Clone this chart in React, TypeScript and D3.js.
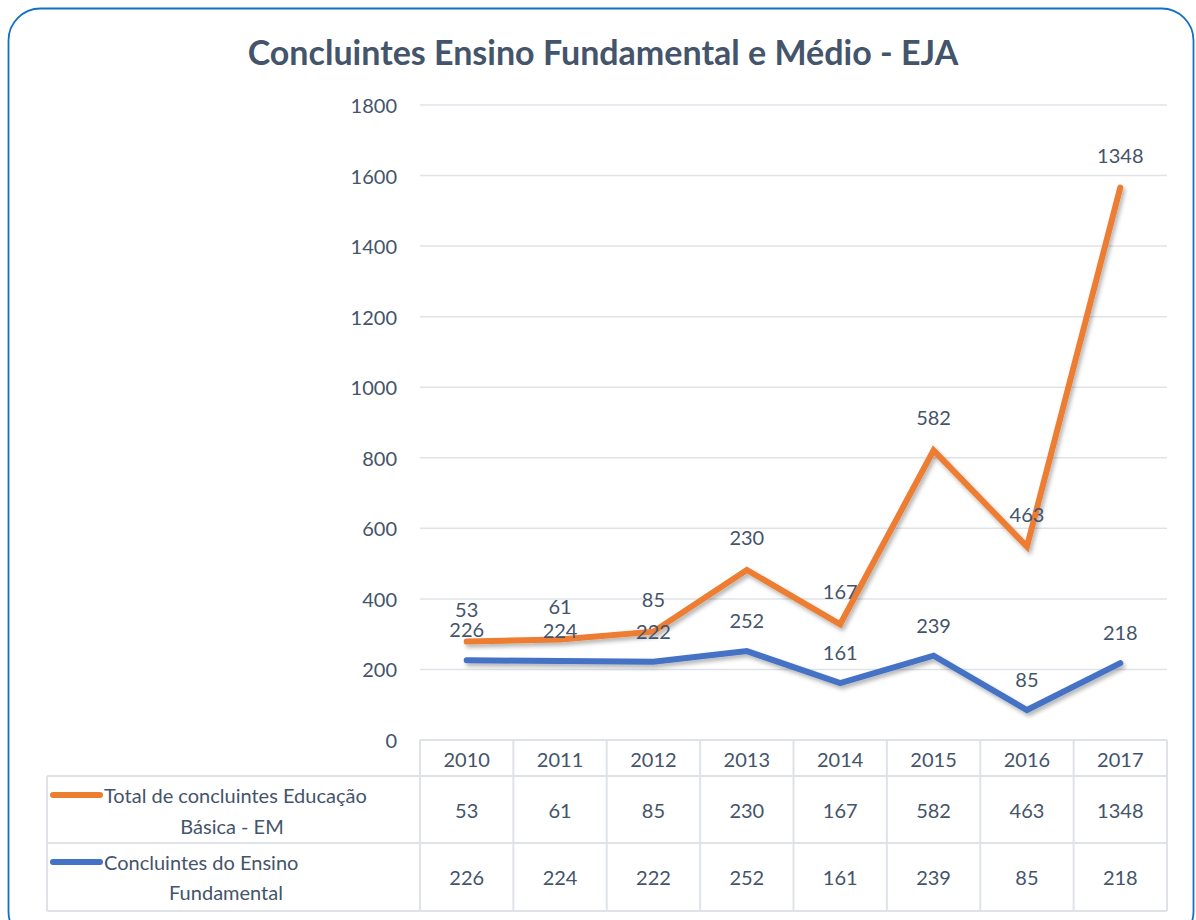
import React from 'react';
import * as d3 from 'd3';

const years = ['2010', '2011', '2012', '2013', '2014', '2015', '2016', '2017'];
const fundamental = [226, 224, 222, 252, 161, 239, 85, 218];
const medio = [53, 61, 85, 230, 167, 582, 463, 1348];
const yTicks = [0, 200, 400, 600, 800, 1000, 1200, 1400, 1600, 1800];

const seriesNames = [
  ['Total de concluintes Educação', 'Básica - EM'],
  ['Concluintes do Ensino', 'Fundamental'],
];

const W = 1196;
const H = 920;
const textColor = '#44546a';
const gridColor = '#dfe3e8';
const orange = '#ed7d31';
const blue = '#4472c4';
const font = 'Lato, "Open Sans", sans-serif';

const App = () => {
  const x = d3.scaleBand<string>().domain(years).range([420, 1167]);
  const y = d3.scaleLinear().domain([0, 1800]).range([740, 105]);
  const bw = x.bandwidth();
  const cx = (i: number) => (x(years[i]) as number) + bw / 2;

  // stacked line: orange sits on top of blue
  const stacked = medio.map((v, i) => v + fundamental[i]);

  const line = d3
    .line<number>()
    .x((_, i) => cx(i))
    .y((d) => y(d));

  const tableLeft = 47;
  const tableRight = 1167;
  const rowTops = [740, 776, 843, 911];

  return (
    <svg width={W} height={H} style={{ position: 'absolute', left: 0, top: 0 }} fontFamily={font}>
      <defs>
        <filter id="shadow" x="-10%" y="-10%" width="120%" height="130%">
          <feDropShadow dx="2" dy="3" stdDeviation="2" floodColor="#000" floodOpacity="0.3" />
        </filter>
      </defs>
      <rect x={0} y={0} width={W} height={H} fill="#fff" />
      <rect x={8.5} y={8.5} width={1185} height={935} rx={32} fill="#fff" stroke="#1470c4" strokeWidth={1.8} />

      <text x={603} y={51} textAnchor="middle" dominantBaseline="central" fontSize={34} fontWeight="bold" fill={textColor}>
        Concluintes Ensino Fundamental e Médio - EJA
      </text>

      {/* gridlines */}
      {yTicks.filter((t) => t > 0).map((t) => (
        <line key={t} x1={420} x2={1167} y1={y(t)} y2={y(t)} stroke={gridColor} strokeWidth={1.5} />
      ))}
      {yTicks.map((t) => (
        <text key={'l' + t} x={397} y={y(t)} textAnchor="end" dominantBaseline="central" fontSize={20} fill={textColor}>
          {t}
        </text>
      ))}

      {/* table grid */}
      <g stroke={gridColor} strokeWidth={2} fill="none">
        <line x1={420} x2={tableRight} y1={rowTops[0]} y2={rowTops[0]} />
        {rowTops.slice(1).map((r) => (
          <line key={r} x1={tableLeft} x2={tableRight} y1={r} y2={r} />
        ))}
        <line x1={tableLeft} x2={tableLeft} y1={rowTops[1]} y2={rowTops[3]} />
        {years.map((yr) => (
          <line key={yr} x1={x(yr)} x2={x(yr)} y1={rowTops[0]} y2={rowTops[3]} />
        ))}
        <line x1={tableRight} x2={tableRight} y1={rowTops[0]} y2={rowTops[3]} />
      </g>
      {years.map((yr, i) => (
        <g key={'t' + yr} fontSize={20} fill={textColor} textAnchor="middle" dominantBaseline="central">
          <text x={cx(i)} y={(rowTops[0] + rowTops[1]) / 2 + 1}>{yr}</text>
          <text x={cx(i)} y={(rowTops[1] + rowTops[2]) / 2}>{medio[i]}</text>
          <text x={cx(i)} y={(rowTops[2] + rowTops[3]) / 2}>{fundamental[i]}</text>
        </g>
      ))}

      {/* legend keys in table */}
      <g fontSize={20} fill={textColor} dominantBaseline="central">
        <line x1={53} x2={100} y1={795} y2={795} stroke={orange} strokeWidth={6} strokeLinecap="round" />
        <text x={104} y={795}>{seriesNames[0][0]}</text>
        <text x={232} y={826} textAnchor="middle">{seriesNames[0][1]}</text>
        <line x1={53} x2={100} y1={862} y2={862} stroke={blue} strokeWidth={6} strokeLinecap="round" />
        <text x={104} y={862}>{seriesNames[1][0]}</text>
        <text x={226} y={892} textAnchor="middle">{seriesNames[1][1]}</text>
      </g>

      {/* lines */}
      <path d={line(fundamental) ?? ''} fill="none" stroke={blue} strokeWidth={6} strokeLinecap="round" strokeLinejoin="miter" filter="url(#shadow)" />
      <path d={line(stacked) ?? ''} fill="none" stroke={orange} strokeWidth={6} strokeLinecap="round" strokeLinejoin="miter" filter="url(#shadow)" />

      {/* data labels */}
      <g fontSize={20} fill={textColor} textAnchor="middle" dominantBaseline="central">
        {fundamental.map((v, i) => (
          <text key={'f' + i} x={cx(i)} y={y(v) - 31}>{v}</text>
        ))}
        {medio.map((v, i) => (
          <text key={'m' + i} x={cx(i)} y={y(stacked[i]) - 33}>{v}</text>
        ))}
      </g>
    </svg>
  );
};

export default App;
